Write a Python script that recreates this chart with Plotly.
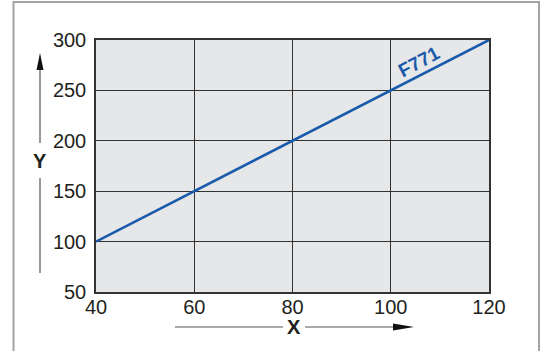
import plotly.graph_objects as go

# data
x_vals = [40, 120]
y_vals = [100, 300]
series_name = "F771"
x_ticks = [40, 60, 80, 100, 120]
y_ticks = [50, 100, 150, 200, 250, 300]

W, H = 541, 351
L, R, T, B = 96, 489, 40, 292

def px(x):
    return (x - L) / (R - L)

def py(y):
    return (B - y) / (B - T)

fig = go.Figure()
fig.add_trace(go.Scatter(x=x_vals, y=y_vals, mode="lines",
                         line=dict(color="#1a5aab", width=2.6),
                         showlegend=False, hoverinfo="skip"))

FAM = "Liberation Sans, Arial, sans-serif"
font = dict(family=FAM, size=20, color="#231f20")

fig.update_layout(
    width=W, height=H,
    margin=dict(l=L, r=W - R, t=T, b=H - B),
    paper_bgcolor="white",
    plot_bgcolor="#e6e7e8",
    font=font,
    xaxis=dict(range=[40, 120], tickvals=x_ticks, showgrid=True,
               gridcolor="#333333", gridwidth=1, showline=True,
               linecolor="#333333", linewidth=1.5, mirror=True,
               zeroline=False, ticks="", ticklabelstandoff=-4,
               tickfont=font),
    yaxis=dict(range=[50, 300], tickvals=y_ticks, showgrid=True,
               gridcolor="#333333", gridwidth=1, showline=True,
               linecolor="#333333", linewidth=1.5, mirror=True,
               zeroline=False, ticks="", ticklabelstandoff=4,
               tickfont=font),
)

shapes = []
# outer frame (open at bottom)
shapes.append(dict(type="path", xref="paper", yref="paper",
                   path=f"M {px(13.5)} {py(352)} L {px(13.5)} {py(2)} L {px(539)} {py(2)} L {px(539)} {py(352)}",
                   line=dict(color="#a3a3a3", width=2)))
# Y axis arrow lines
shapes.append(dict(type="line", xref="paper", yref="paper",
                   x0=px(40), x1=px(40), y0=py(143), y1=py(62),
                   line=dict(color="#555555", width=1.2)))
shapes.append(dict(type="line", xref="paper", yref="paper",
                   x0=px(40), x1=px(40), y0=py(178), y1=py(273),
                   line=dict(color="#555555", width=1.2)))
# arrow head Y
shapes.append(dict(type="path", xref="paper", yref="paper",
                   path=f"M {px(40)} {py(53)} L {px(36.5)} {py(70)} L {px(43.5)} {py(70)} Z",
                   fillcolor="#111111", line=dict(width=0)))
# X axis arrow lines
shapes.append(dict(type="line", xref="paper", yref="paper",
                   x0=px(175), x1=px(283), y0=py(327), y1=py(327),
                   line=dict(color="#555555", width=1.2)))
shapes.append(dict(type="line", xref="paper", yref="paper",
                   x0=px(305), x1=px(398), y0=py(327), y1=py(327),
                   line=dict(color="#555555", width=1.2)))
shapes.append(dict(type="path", xref="paper", yref="paper",
                   path=f"M {px(414)} {py(327)} L {px(393)} {py(323.5)} L {px(393)} {py(330.5)} Z",
                   fillcolor="#111111", line=dict(width=0)))
fig.update_layout(shapes=shapes)

fig.add_annotation(text="<b>Y</b>", xref="paper", yref="paper",
                   x=px(40), y=py(161), showarrow=False,
                   xanchor="center", yanchor="middle",
                   font=dict(family=FAM, size=20, color="#231f20"))
fig.add_annotation(text="<b>X</b>", xref="paper", yref="paper",
                   x=px(294), y=py(327), showarrow=False,
                   xanchor="center", yanchor="middle",
                   font=dict(family=FAM, size=20, color="#231f20"))
fig.add_annotation(text="<b>" + series_name + "</b>", x=105.8, y=279, xref="x", yref="y",
                   showarrow=False, textangle=-28,
                   xanchor="center", yanchor="middle",
                   font=dict(family=FAM, size=19, color="#1a5aab"))

fig.write_html("out.html", config={"displayModeBar": False},
               post_script="document.body.style.margin='0';document.body.style.overflow='hidden';")
